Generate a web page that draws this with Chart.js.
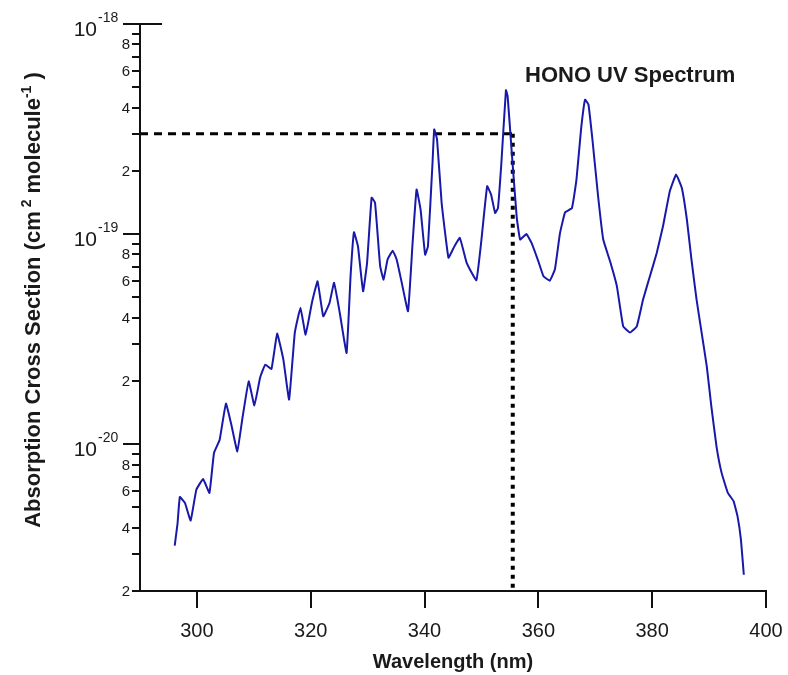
<!DOCTYPE html>
<html>
<head>
<meta charset="utf-8">
<script src="https://cdn.jsdelivr.net/npm/chart.js@4/dist/chart.umd.min.js"></script>
<style>
html,body{margin:0;padding:0;background:#fff;}
#c{display:block;}
</style>
</head>
<body>
<canvas id="c" width="788" height="675"></canvas>
<script>
// ---- data ----
const wavelength = [296.1,296.6,297.0,297.9,298.9,299.9,301.1,302.2,303.0,304.0,305.1,306.1,307.1,308.0,309.1,310.1,311.1,312.0,313.1,314.1,315.2,316.2,317.2,318.2,319.1,320.2,321.2,322.2,323.3,324.1,325.1,326.3,327.0,327.6,328.3,329.2,329.9,330.7,331.3,332.2,332.8,333.5,334.4,335.1,336.0,337.1,337.9,338.6,339.3,340.1,340.6,341.4,341.7,342.2,343.0,344.2,345.1,346.2,347.4,349.1,350.0,351.0,351.7,352.4,352.9,353.5,354.3,354.6,355.3,356.2,356.8,357.9,358.8,360.0,360.9,362.0,362.9,363.8,364.7,365.9,366.7,367.5,368.2,368.8,369.5,370.5,371.4,372.6,373.8,374.9,376.1,377.3,378.4,379.6,380.8,381.9,383.1,384.2,385.2,386.1,386.9,387.8,388.7,389.6,390.4,391.3,392.2,393.3,394.3,395.0,395.6,396.1];
const crossSection = [3.29e-21,4.2e-21,5.6e-21,5.25e-21,4.33e-21,6.07e-21,6.82e-21,5.86e-21,9.08e-21,1.05e-20,1.56e-20,1.22e-20,9.24e-21,1.33e-20,1.99e-20,1.53e-20,2.07e-20,2.39e-20,2.28e-20,3.36e-20,2.52e-20,1.63e-20,3.39e-20,4.46e-20,3.32e-20,4.70e-20,5.96e-20,4.06e-20,4.70e-20,5.86e-20,4.22e-20,2.72e-20,6.3e-20,1.02e-19,8.75e-20,5.34e-20,7.3e-20,1.49e-19,1.41e-19,7.03e-20,6.07e-20,7.57e-20,8.34e-20,7.57e-20,5.86e-20,4.29e-20,9.08e-20,1.63e-19,1.31e-19,7.98e-20,8.75e-20,2.18e-19,3.15e-19,2.82e-19,1.41e-19,7.71e-20,8.59e-20,9.59e-20,7.3e-20,6.03e-20,9.42e-20,1.69e-19,1.54e-19,1.26e-19,1.33e-19,2.18e-19,4.84e-19,4.53e-19,2.5e-19,1.2e-19,9.42e-20,1.00e-19,9.08e-20,7.42e-20,6.3e-20,6.0e-20,6.78e-20,1.01e-19,1.27e-19,1.33e-19,1.82e-19,3.15e-19,4.36e-19,4.14e-19,2.82e-19,1.51e-19,9.42e-20,7.42e-20,5.64e-20,3.64e-20,3.4e-20,3.64e-20,4.88e-20,6.3e-20,8.13e-20,1.09e-19,1.60e-19,1.92e-19,1.66e-19,1.17e-19,7.57e-20,4.88e-20,3.38e-20,2.34e-20,1.51e-20,9.77e-21,7.3e-21,5.86e-21,5.35e-21,4.53e-21,3.5e-21,2.39e-21];
const xTicks = [300,320,340,360,380,400];
const xRange = [290,400];
const yRange = [2e-21,1e-18];
const yDecades = [-21,-20,-19,-18];
const yMantissas = [1,2,3,4,5,6,7,8,9];
const yMinorLabels = [2,4,6,8];
const markerWavelength = [355.5];
const markerCross = [3e-19];
const titleText = 'HONO UV Spectrum';
const xTitle = 'Wavelength (nm)';

const FONT = '"Liberation Sans", Arial, sans-serif';
const TXT = '#1a1a1a';

const spectrum = wavelength.map((w,i)=>({x:w,y:crossSection[i]}));
const hLine = [{x:xRange[0],y:markerCross[0]},{x:markerWavelength[0],y:markerCross[0]}];
const vLine = [{x:markerWavelength[0],y:markerCross[0]},{x:markerWavelength[0],y:yRange[0]}];

const decor = {
  id:'decor',
  afterDraw(chart){
    const {ctx, chartArea:a, scales:{y}} = chart;
    ctx.save();
    ctx.strokeStyle='#111'; ctx.lineWidth=2;
    yDecades.forEach(e=>{
      yMantissas.forEach(k=>{
        const v = k*Math.pow(10,e);
        if (v < yRange[0]*0.999 || v > yRange[1]*1.001) return;
        const py = Math.round(y.getPixelForValue(v));
        const len = k===1 ? 17 : 8;
        ctx.beginPath(); ctx.moveTo(a.left-len, py); ctx.lineTo(a.left+1, py); ctx.stroke();
        ctx.fillStyle = TXT;
        if (k===1) {
          ctx.font = '21px '+FONT; ctx.textAlign='right'; ctx.textBaseline='middle';
          ctx.fillText('10', a.left-43, py+6);
          ctx.font = '14px '+FONT; ctx.textAlign='left'; ctx.textBaseline='alphabetic';
          ctx.fillText(String(e), a.left-42, py-2);
        } else if (yMinorLabels.includes(k)) {
          ctx.font = '15px '+FONT; ctx.textAlign='right'; ctx.textBaseline='middle';
          ctx.fillText(String(k), a.left-10, py+1);
        }
      });
    });
    const pt = Math.round(y.getPixelForValue(yRange[1]));
    ctx.beginPath(); ctx.moveTo(a.left, pt); ctx.lineTo(a.left+22, pt); ctx.stroke();

    // y title with superscripts
    ctx.save();
    ctx.translate(32, 300); ctx.rotate(-Math.PI/2);
    const pieces = [
      {t:'Absorption Cross Section (cm', s:false},
      {t:' 2', s:true},
      {t:' molecule', s:false},
      {t:'-1', s:true},
      {t:' )', s:false}
    ];
    const fMain = 'bold 22px '+FONT, fSup = 'bold 14px '+FONT;
    let total = 0;
    pieces.forEach(p=>{ ctx.font = p.s?fSup:fMain; p.w = ctx.measureText(p.t).width; total += p.w; });
    let xx = -total/2;
    ctx.fillStyle = TXT; ctx.textAlign='left'; ctx.textBaseline='alphabetic';
    pieces.forEach(p=>{ ctx.font = p.s?fSup:fMain; ctx.fillText(p.t, xx, p.s? -1 : 8); xx += p.w; });
    ctx.restore();

    ctx.font = 'bold 22px '+FONT; ctx.textAlign='left'; ctx.textBaseline='middle'; ctx.fillStyle = TXT;
    ctx.fillText(titleText, 525, 76);
    ctx.restore();
  }
};

new Chart(document.getElementById('c'), {
  type:'line',
  data:{datasets:[
    {data:spectrum, borderColor:'#1818aa', borderWidth:2, pointRadius:0, tension:0.1, fill:false},
    {data:hLine, borderColor:'#000', borderWidth:3, borderDash:[8,6], pointRadius:0, fill:false},
    {data:vLine, borderColor:'#000', borderWidth:4, borderDash:[4,5], pointRadius:0, fill:false}
  ]},
  options:{
    responsive:false, animation:false, devicePixelRatio:1,
    layout:{padding:{left:0,right:22,top:24,bottom:0}},
    plugins:{legend:{display:false}, tooltip:{enabled:false}},
    scales:{
      x:{type:'linear', min:xRange[0], max:xRange[1],
        afterBuildTicks(s){ s.ticks = xTicks.map(v=>({value:v})); },
        afterFit(s){ s.height = 84; s.paddingLeft = 0; s.paddingRight = 0; },
        grid:{drawOnChartArea:false, drawTicks:true, tickLength:17, color:'#111', lineWidth:2},
        border:{color:'#111', width:2},
        ticks:{font:{size:20, family:FONT}, color:TXT, padding:11, maxRotation:0, autoSkip:false},
        title:{display:true, text:xTitle, font:{size:20, weight:'bold', family:FONT}, color:TXT, padding:{top:0,bottom:1}}
      },
      y:{type:'logarithmic', min:yRange[0], max:yRange[1],
        afterFit(s){ s.width = 140; s.paddingTop = 0; s.paddingBottom = 0; },
        grid:{display:false},
        border:{color:'#111', width:2},
        ticks:{display:false}
      }
    }
  },
  plugins:[decor]
});
</script>
</body>
</html>
